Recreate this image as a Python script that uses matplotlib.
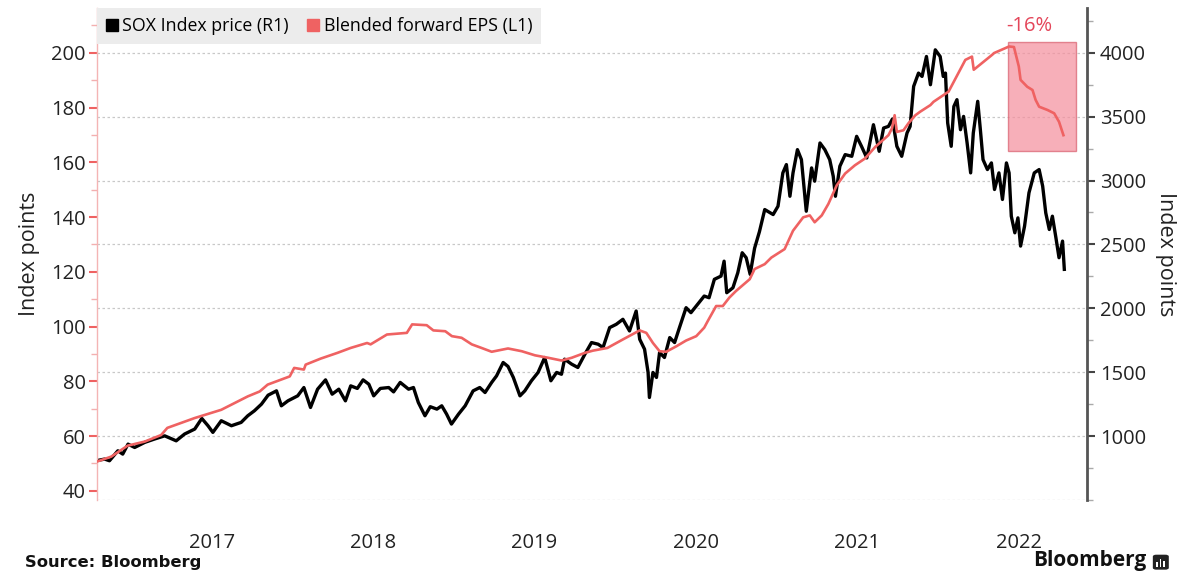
import matplotlib
matplotlib.use("Agg")
import matplotlib.pyplot as plt
import matplotlib.dates as mdates
import pandas as pd
from matplotlib.patches import Rectangle, FancyBboxPatch
from matplotlib.ticker import FixedLocator, NullFormatter

plt.rcParams['font.family'] = ['Open Sans', 'DejaVu Sans']

# ---------------- data ----------------
sox_dates = [
    "2016-10-12", "2016-10-31", "2016-11-11", "2016-11-30", "2016-12-11", "2016-12-23",
    "2017-01-07", "2017-01-30", "2017-02-21", "2017-03-16", "2017-04-11", "2017-04-30",
    "2017-05-23", "2017-06-08", "2017-06-22", "2017-07-03", "2017-07-22", "2017-08-14",
    "2017-09-05", "2017-09-20", "2017-10-05", "2017-10-21", "2017-11-05", "2017-11-24",
    "2017-12-05", "2017-12-20", "2018-01-11", "2018-01-25", "2018-02-09", "2018-02-25",
    "2018-03-15", "2018-03-30", "2018-04-14", "2018-04-29", "2018-05-11", "2018-05-26",
    "2018-06-08", "2018-06-21", "2018-07-02", "2018-07-17", "2018-08-05", "2018-08-16",
    "2018-08-31", "2018-09-19", "2018-09-30", "2018-10-11", "2018-10-26", "2018-11-07",
    "2018-11-22", "2018-12-03", "2018-12-14", "2018-12-25", "2019-01-10", "2019-01-25",
    "2019-02-12", "2019-02-27", "2019-03-11", "2019-03-26", "2019-04-06", "2019-04-21",
    "2019-05-02", "2019-05-14", "2019-05-29", "2019-06-09", "2019-06-24", "2019-07-09",
    "2019-07-24", "2019-08-07", "2019-08-20", "2019-08-31", "2019-09-07", "2019-09-23",
    "2019-10-07", "2019-10-23", "2019-11-07", "2019-11-22", "2019-12-03", "2019-12-18",
    "2020-01-02", "2020-01-17", "2020-02-01", "2020-02-16", "2020-02-24", "2020-03-06",
    "2020-03-14", "2020-03-17", "2020-03-25", "2020-04-02", "2020-04-09", "2020-04-20",
    "2020-05-02", "2020-05-13", "2020-05-24", "2020-06-08", "2020-06-19", "2020-07-04",
    "2020-07-19", "2020-07-30", "2020-08-11", "2020-08-26", "2020-09-02", "2020-09-08",
    "2020-09-22", "2020-10-03", "2020-10-13", "2020-10-22", "2020-10-31", "2020-11-10",
    "2020-11-21", "2020-12-03", "2020-12-22", "2021-01-02", "2021-01-13", "2021-01-21",
    "2021-01-29", "2021-02-05", "2021-02-15", "2021-02-24", "2021-03-07", "2021-03-19",
    "2021-03-26", "2021-04-07", "2021-04-18", "2021-04-29", "2021-05-07", "2021-05-12",
    "2021-05-22", "2021-06-03", "2021-06-18", "2021-06-29", "2021-07-10", "2021-07-22",
    "2021-08-06", "2021-08-19", "2021-08-29", "2021-09-09", "2021-09-18", "2021-09-28",
    "2021-10-09", "2021-10-21", "2021-10-28", "2021-11-05", "2021-11-16", "2021-11-24",
    "2021-12-04", "2021-12-13", "2021-12-24", "2022-01-04", "2022-01-11", "2022-01-16",
    "2022-01-21", "2022-01-29", "2022-02-04", "2022-02-11", "2022-02-19", "2022-02-26",
    "2022-03-06", "2022-03-14", "2022-03-20", "2022-03-30", "2022-04-05", "2022-04-11",
    "2022-04-21", "2022-04-30", "2022-05-07", "2022-05-17", "2022-05-25", "2022-06-03",
    "2022-06-09", "2022-06-14", "2022-06-22", "2022-06-29", "2022-07-05", "2022-07-14",
    "2022-07-24", "2022-08-05", "2022-08-16", "2022-08-24", "2022-08-31", "2022-09-08",
    "2022-09-15", "2022-09-23", "2022-09-30", "2022-10-08", "2022-10-12",
]
sox_values = [
    807, 820, 807, 885, 859, 937,
    911, 951, 977, 1002, 963, 1016,
    1055, 1138, 1081, 1029, 1120, 1081,
    1107, 1159, 1198, 1250, 1320, 1354,
    1237, 1276, 1315, 1380, 1224, 1367,
    1440, 1328, 1367, 1276, 1393, 1373,
    1440, 1406, 1315, 1373, 1380, 1346,
    1420, 1367, 1380, 1263, 1159, 1230,
    1211, 1237, 1172, 1094, 1172, 1237,
    1354, 1380, 1341, 1420, 1471, 1576,
    1545, 1459, 1315, 1354, 1433, 1498,
    1615, 1433, 1498, 1484, 1602, 1563,
    1537, 1641, 1732, 1719, 1693, 1849,
    1875, 1914, 1823, 1979, 1758, 1680,
    1498, 1302, 1498, 1459, 1654, 1615,
    1771, 1732, 1849, 2005, 1966, 2031,
    2096, 2083, 2227, 2252, 2369, 2122,
    2161, 2278, 2435, 2396, 2266, 2470,
    2600, 2773, 2734, 2799, 3060, 3125,
    2877, 3060, 3242, 3164, 2760, 3099,
    2995, 3294, 3242, 3164, 3034, 2877,
    3112, 3203, 3190, 3346, 3268, 3177,
    3437, 3229, 3411, 3424, 3482, 3268,
    3190, 3372, 3424, 3737, 3841, 3815,
    3971, 3750, 4023, 3971, 3815, 3841,
    3451, 3268, 3580, 3633, 3398, 3502,
    3294, 3060, 3372, 3620, 3398, 3164,
    3086, 3138, 2930, 3060, 2852, 3138,
    3060, 2721, 2591, 2708, 2487, 2643,
    2904, 3060, 3086, 2956, 2747, 2617,
    2721, 2552, 2396, 2526, 2305,
]

eps_dates = [
    "2016-10-12", "2016-11-15", "2016-12-22", "2017-01-30", "2017-03-08", "2017-03-22",
    "2017-05-23", "2017-07-22", "2017-09-20", "2017-10-17", "2017-11-04", "2017-11-24",
    "2017-12-24", "2018-01-03", "2018-01-25", "2018-01-29", "2018-03-04", "2018-04-11",
    "2018-05-11", "2018-06-17", "2018-06-25", "2018-08-01", "2018-09-15", "2018-09-27",
    "2018-10-30", "2018-11-14", "2018-12-11", "2018-12-26", "2019-01-17", "2019-02-09",
    "2019-03-03", "2019-03-26", "2019-05-02", "2019-06-02", "2019-07-02", "2019-08-01",
    "2019-08-31", "2019-09-23", "2019-10-23", "2019-11-10", "2019-12-13", "2020-01-17",
    "2020-02-24", "2020-03-10", "2020-03-25", "2020-04-09", "2020-04-24", "2020-05-17",
    "2020-06-08", "2020-07-01", "2020-07-19", "2020-07-27", "2020-08-15", "2020-08-30",
    "2020-09-14", "2020-09-29", "2020-10-30", "2020-11-10", "2020-12-03", "2020-12-18",
    "2021-01-17", "2021-02-05", "2021-02-28", "2021-03-15", "2021-03-26", "2021-04-11",
    "2021-04-26", "2021-05-15", "2021-06-03", "2021-06-25", "2021-07-18", "2021-08-10",
    "2021-09-09", "2021-09-17", "2021-09-23", "2021-09-28", "2021-10-13", "2021-10-24",
    "2021-11-09", "2021-11-20", "2021-12-13", "2021-12-20", "2022-01-23", "2022-03-02",
    "2022-03-17", "2022-03-21", "2022-05-02", "2022-05-06", "2022-06-09", "2022-06-20",
    "2022-07-01", "2022-07-05", "2022-07-20", "2022-08-01", "2022-08-08", "2022-08-16",
    "2022-09-04", "2022-09-19", "2022-09-30", "2022-10-10",
]
eps_values = [
    50.6, 52.5, 56.5, 58.0, 60.4, 63.0,
    66.6, 69.6, 74.5, 76.3, 78.8, 80.0,
    81.8, 84.9, 84.3, 86.1, 88.3, 90.4,
    92.2, 94.0, 93.5, 97.1, 97.7, 100.8,
    100.5, 98.6, 98.3, 96.5, 95.9, 93.5,
    92.2, 90.8, 92.0, 91.0, 89.5, 88.6,
    87.6, 88.6, 90.4, 91.2, 92.2, 95.3,
    98.6, 97.7, 94.0, 91.0, 90.8, 92.8,
    94.9, 96.5, 99.6, 102.0, 107.5, 107.5,
    110.6, 113.0, 117.3, 121.0, 122.8, 125.2,
    128.3, 135.0, 139.9, 140.6, 138.1, 140.6,
    144.8, 151.6, 155.9, 158.9, 161.4, 165.6,
    169.9, 172.4, 177.2, 171.1, 171.7, 174.2,
    177.2, 178.5, 180.9, 182.1, 185.8, 197.4,
    198.6, 193.8, 199.3, 199.9, 202.3, 202.1,
    195.0, 190.1, 187.6, 186.4, 182.8, 180.3,
    179.1, 177.9, 174.8, 169.9,
]

left_ticks = [40, 60, 80, 100, 120, 140, 160, 180, 200]
right_ticks = [1000, 1500, 2000, 2500, 3000, 3500, 4000]

highlight_start = "2022-06-06"
highlight_end = "2022-11-07"
highlight_low = 164.1
highlight_high = 204.1
highlight_text = "-16%"

# ---------------- figure ----------------
RED = "#ef6262"
fig = plt.figure(figsize=(11.83, 5.76), dpi=100)
ax = fig.add_axes([0.0817, 0.132, 0.8374, 0.854])   # left axis: EPS
ax2 = ax.twinx()                                    # right axis: SOX
ax.set_zorder(ax2.get_zorder() + 1)
ax.patch.set_visible(False)

sd = pd.to_datetime(sox_dates)
ed = pd.to_datetime(eps_dates)

ax2.plot(sd, sox_values, color="black", lw=2.4, solid_joinstyle="round")
ax.plot(ed, eps_values, color=RED, lw=1.9, zorder=3)

# highlight box
x0 = mdates.date2num(pd.Timestamp(highlight_start))
x1 = mdates.date2num(pd.Timestamp(highlight_end))
ax.add_patch(Rectangle((x0, highlight_low), x1 - x0, highlight_high - highlight_low,
                       facecolor="#f5909e", edgecolor="#d9606f", lw=1.0,
                       alpha=0.72, zorder=2))
ax.text(pd.Timestamp("2022-07-24"), 209.6, highlight_text, color="#e4465a",
        fontsize=14.5, ha="center", va="center")

# limits
ax.set_xlim(pd.Timestamp("2016-10-13"), pd.Timestamp("2022-12-03"))
ax.set_ylim(36.67, 216.33)
ax2.set_ylim(500, 4350)

# x axis
ax.xaxis.set_major_locator(mdates.YearLocator())
ax.xaxis.set_major_formatter(NullFormatter())
ax.xaxis.set_minor_locator(mdates.MonthLocator(bymonth=7, bymonthday=1))
ax.xaxis.set_minor_formatter(mdates.DateFormatter("%Y"))
ax.tick_params(axis="x", which="both", length=0, labelsize=14.5, pad=24,
               labelcolor="#222222")

# left axis
ax.yaxis.set_major_locator(FixedLocator(left_ticks))
ax.yaxis.set_minor_locator(FixedLocator([50, 70, 90, 110, 130, 150, 170, 190, 210]))
ax.tick_params(axis="y", which="major", colors=RED, length=6, width=1.5,
               labelsize=14.5, labelcolor="#222222", pad=2)
ax.tick_params(axis="y", which="minor", colors="#f3b0b0", length=4, width=1)

# right axis
ax2.yaxis.set_major_locator(FixedLocator(right_ticks))
ax2.yaxis.set_minor_locator(FixedLocator([500, 750, 1250, 1750, 2250, 2750, 3250, 3750, 4250]))
ax2.tick_params(axis="y", which="major", colors="#444444", length=6, width=1.5,
                labelsize=14.5, labelcolor="#222222", pad=3)
ax2.tick_params(axis="y", which="minor", colors="#aaaaaa", length=4, width=1)

# spines
for s in ["top", "bottom", "right"]:
    ax.spines[s].set_visible(False)
ax.spines["left"].set_color("#f4b4b4")
ax.spines["left"].set_linewidth(1.0)
for s in ["top", "bottom", "left"]:
    ax2.spines[s].set_visible(False)
ax2.spines["right"].set_color("#555555")
ax2.spines["right"].set_linewidth(2.0)

# grid
ax.grid(False)
ax2.grid(True, axis="y", which="major", color="#c8c8c8", ls=(0, (2, 2)), lw=0.9)
ax2.axhline(500, color="#c8c8c8", ls=(0, (2, 2)), lw=0.9)
ax2.grid(True, axis="x", which="major", color="#c8c8c8", ls=(0, (2, 2)), lw=0.9)
ax2.set_axisbelow(True)

# labels
ax.set_ylabel("Index points", fontsize=15.5, color="#222222", labelpad=8)
ax2.set_ylabel("Index points", fontsize=15.5, color="#222222", rotation=270,
               labelpad=22)

# legend
handles = [Rectangle((0, 0), 1, 1, color="black"), Rectangle((0, 0), 1, 1, color=RED)]
leg = ax.legend(handles, ["SOX Index price (R1)", "Blended forward EPS (L1)"],
                loc="upper left", bbox_to_anchor=(0, 1), ncol=2, frameon=True,
                facecolor="#ececec", edgecolor="none", fancybox=False, framealpha=1,
                handlelength=0.7, handleheight=0.7, handletextpad=0.25,
                columnspacing=1.0, borderaxespad=0, fontsize=12.8, borderpad=0.5)
leg.set_zorder(10)

# footer
fig.text(0.021, 0.010, "Source: Bloomberg", fontsize=11.8, fontweight="bold",
         family="DejaVu Sans", color="#111111", ha="left", va="bottom")
fig.text(0.969, 0.008, "Bloomberg", fontsize=15, fontweight="bold",
         color="#111111", ha="right", va="bottom")
icon = FancyBboxPatch((0.9745, 0.011), 0.0135, 0.026,
                      boxstyle="round,pad=0.0,rounding_size=0.003",
                      transform=fig.transFigure, facecolor="#222222",
                      edgecolor="none")
fig.patches.append(icon)
for i, h in enumerate([0.008, 0.014, 0.010]):
    fig.patches.append(Rectangle((0.9773 + i * 0.0030, 0.016), 0.0015, h,
                                 transform=fig.transFigure, facecolor="white",
                                 edgecolor="none"))

fig.savefig("out.png", dpi=100)
